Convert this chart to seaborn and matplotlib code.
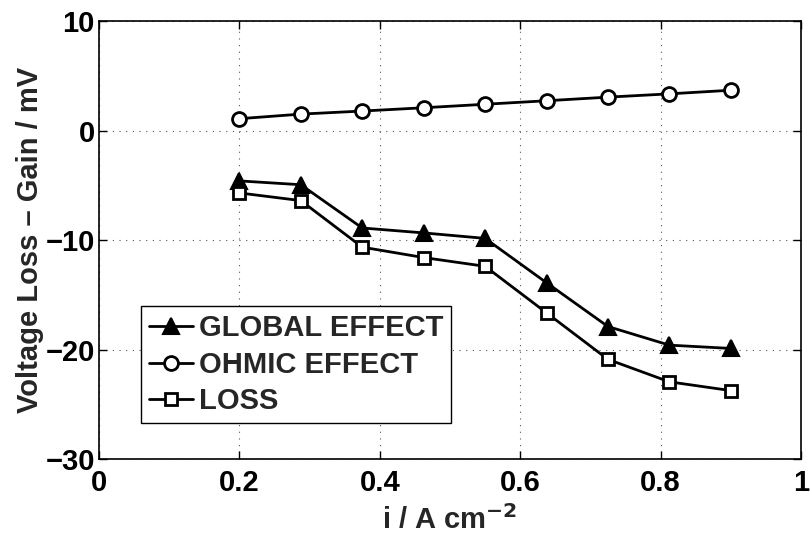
import matplotlib
matplotlib.use("Agg")
import matplotlib.pyplot as plt
import seaborn as sns
import pandas as pd

current = [0.2, 0.2875, 0.375, 0.4625, 0.55, 0.6375, 0.725, 0.8125, 0.9]
global_effect = [-4.6, -4.95, -8.9, -9.35, -9.85, -13.9, -17.9, -19.6, -19.9]
ohmic_effect = [1.08, 1.5, 1.78, 2.08, 2.4, 2.72, 3.05, 3.35, 3.68]
loss = [-5.7, -6.4, -10.65, -11.6, -12.4, -16.65, -20.9, -22.95, -23.75]
series_names = ["GLOBAL EFFECT", "OHMIC EFFECT", "LOSS"]
x_ticks = [0, 0.2, 0.4, 0.6, 0.8, 1]
x_tick_labels = ["0", "0.2", "0.4", "0.6", "0.8", "1"]
y_ticks = [-30, -20, -10, 0, 10]
y_tick_labels = ["\u221230", "\u221220", "\u221210", "0", "10"]

sns.set_theme(style="white")
plt.rcParams['font.family'] = ['Liberation Sans', 'DejaVu Sans']
plt.rcParams['font.weight'] = 'bold'
plt.rcParams['mathtext.default'] = 'bf'

df = pd.concat([
    pd.DataFrame({"i": current, "v": global_effect, "s": series_names[0]}),
    pd.DataFrame({"i": current, "v": ohmic_effect, "s": series_names[1]}),
    pd.DataFrame({"i": current, "v": loss, "s": series_names[2]}),
])

fig = plt.figure(figsize=(8.1, 5.38), dpi=100)
ax = fig.add_axes([0.1222, 0.1468, 0.8667, 0.8141])

styles = {
    series_names[0]: dict(marker="^", markersize=11, markerfacecolor="black", markeredgecolor="black", markeredgewidth=1.5),
    series_names[1]: dict(marker="o", markersize=10, markerfacecolor="white", markeredgecolor="black", markeredgewidth=2),
    series_names[2]: dict(marker="s", markersize=8, markerfacecolor="white", markeredgecolor="black", markeredgewidth=2),
}
for name in series_names:
    sub = df[df["s"] == name]
    sns.lineplot(data=sub, x="i", y="v", ax=ax, color="black", linewidth=2,
                 label=name, **styles[name])

ax.set_xlim(0, 1)
ax.set_ylim(-30, 10)
ax.set_xticks(x_ticks)
ax.set_xticklabels(x_tick_labels)
ax.set_yticks(y_ticks)
ax.set_yticklabels(y_tick_labels)
ax.tick_params(direction="in", length=6, width=1, labelsize=21,
               top=True, right=True, bottom=True, left=True, colors="black")
ax.tick_params(axis="x", pad=7)
ax.tick_params(axis="y", pad=3)
for lab in ax.get_xticklabels() + ax.get_yticklabels():
    lab.set_fontweight("bold")
ax.grid(True, color="#555555", linestyle=(0, (1, 5)), linewidth=0.8)
for sp in ax.spines.values():
    sp.set_visible(True)
    sp.set_color("black")
    sp.set_linewidth(1.2)

ax.set_xlabel("i / A cm$^{\\mathbf{-2}}$", fontsize=21, fontweight="bold", labelpad=6)
ax.set_ylabel("Voltage Loss \u2013 Gain / mV", fontsize=21, fontweight="bold", labelpad=1)

leg = ax.legend(loc="lower left", bbox_to_anchor=(0.06, 0.082), fontsize=21,
                handlelength=1.5, handletextpad=0.2, labelspacing=0.29,
                borderpad=0.27, borderaxespad=0, frameon=True, fancybox=False,
                framealpha=1, edgecolor="black")
leg.get_frame().set_linewidth(1.0)
for t in leg.get_texts():
    t.set_fontweight("bold")

fig.savefig("out.png", dpi=100)
